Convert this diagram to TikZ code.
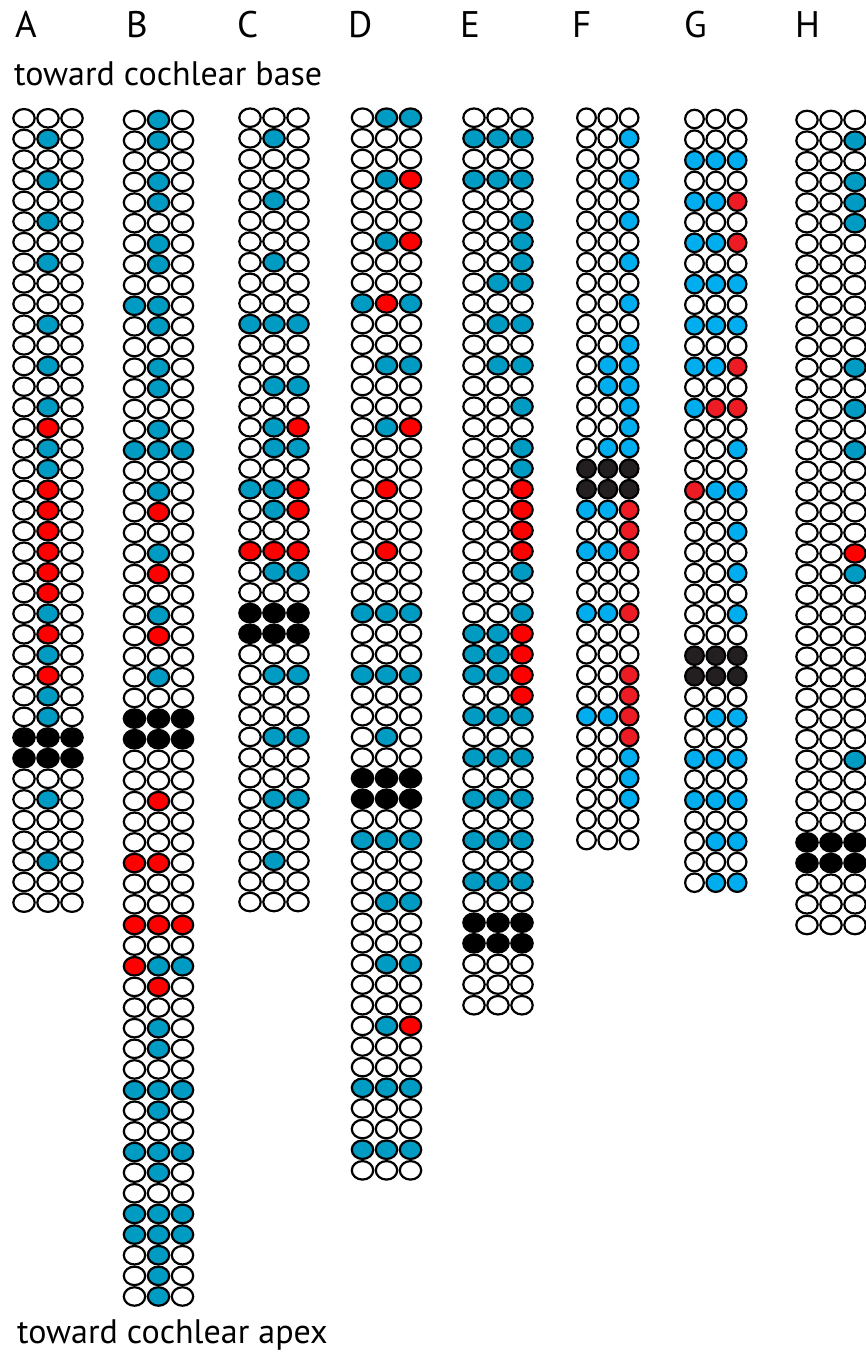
\documentclass[tikz,border=0pt]{standalone}
\usepackage{fontspec}
\setmainfont{PT Sans}
\usetikzlibrary{shapes.geometric}
% t = teal set (A-E, H), f = bright set (F, G)
\definecolor{tw}{HTML}{FFFFFF}
\definecolor{tb}{HTML}{009BC3}
\definecolor{tr}{HTML}{FF0000}
\definecolor{tk}{HTML}{000000}
\definecolor{fw}{HTML}{FFFFFF}
\definecolor{fb}{HTML}{00AEEF}
\definecolor{fr}{HTML}{ED1C24}
\definecolor{fk}{HTML}{231F20}
\tikzset{
  cell/.style={ellipse, draw=black, line width=2.2pt, inner sep=0pt,
               minimum height=18.5pt},
  lbl/.style={font=\fontsize{34}{40}\selectfont, anchor=base west, inner sep=0pt},
  letter/.style={lbl, font=\fontsize{37}{44}\selectfont}
}
\def\splitcells#1#2#3\relax{\def\cA{#1}\def\cB{#2}\def\cC{#3}}
% #1 name, #2 left x, #3 x step, #4 top y, #5 colour set, #6 rows
\newcommand{\cellstrip}[6]{%
  \foreach \cells [count=\n] in {#6} {
    \expandafter\splitcells\cells\relax
    \foreach \c [count=\m] in {\cA,\cB,\cC} {
      \edef\cellcol{#5\c}
      \node[cell, minimum width=#3-2.6, fill=\cellcol] (#1-\n-\m)
        at ({#2+(\m-1)*#3},{#4+(\n-1)*20.64}) {};
    }
  }
}

\begin{document}
\begin{tikzpicture}[x=1pt,y=-1pt]
  \useasboundingbox (0,0) rectangle (866,1355);

  \foreach \t/\x in {A/15,B/126,C/237,D/348,E/460,F/572,G/684,H/795}
    \node[letter] (lbl\t) at (\x,37.5) {\t};
  \node[lbl] (base) at (14,85) {toward cochlear base};
  \node[lbl] (apex) at (17,1343) {toward cochlear apex};

  \cellstrip{A}{24}{24}{118.3}{t}{www,wbw,www,wbw,www,wbw,www,wbw,www,www,
    wbw,www,wbw,www,wbw,wrw,wbw,wbw,wrw,wrw,wrw,wrw,wrw,wrw,wbw,wrw,wbw,wrw,
    wbw,wbw,kkk,kkk,www,wbw,www,www,wbw,www,www}
  \cellstrip{B}{134.5}{24}{120}{t}{wbw,wbw,www,wbw,wbw,www,wbw,wbw,www,bbw,
    wbw,www,wbw,wbw,www,wbw,bbb,www,wbw,wrw,www,wbw,wrw,www,wbw,wrw,www,wbw,
    www,kkk,kkk,www,www,wrw,www,www,rrw,www,www,rrr,www,rbb,wrw,www,wbw,wbw,
    www,bbb,wbw,www,bbb,wbw,www,bbb,bbb,wbw,wbw,wbw}
  \cellstrip{C}{250}{24}{117.7}{t}{www,wbw,www,www,wbw,www,www,wbw,www,www,
    bbb,www,www,wbb,www,wbr,wbb,www,bbr,wbr,www,rrr,wbb,www,kkk,kkk,www,wbb,
    www,www,wbb,www,www,wbb,www,www,wbw,www,www}
  \cellstrip{D}{362.5}{24}{117.7}{t}{wbb,www,www,wbr,www,www,wbr,www,www,brb,
    www,www,wbb,www,www,wbr,www,www,wrw,www,www,wrw,www,www,bbb,www,www,bbb,
    www,www,wbw,www,kkk,kkk,www,bbb,www,www,wbb,www,www,wbb,www,www,wbr,www,
    www,bbb,www,www,bbb,www}
  \cellstrip{E}{474}{24}{117.7}{t}{www,bbb,www,bbb,www,wwb,wwb,wwb,wbb,www,
    wbb,www,wbb,www,wwb,www,wwb,wwb,wwr,wwr,wwr,wwr,wwb,www,wwb,bbr,bbr,bbr,
    wwr,bbb,www,bbb,www,bbb,www,bbb,www,bbb,www,kkk,kkk,www,www,www}
  \cellstrip{F}{586.5}{21.3}{117.7}{f}{www,wwb,www,wwb,www,wwb,www,wwb,www,
    wwb,www,wwb,wbb,wbb,wwb,wwb,wbb,kkk,kkk,bbr,wwr,bbr,www,www,bbr,www,www,
    wwr,wwr,bbr,wwr,wwb,wwb,wwb,www,www}
  \cellstrip{G}{694.5}{21.3}{119}{f}{www,www,bbb,www,bbr,www,bbr,www,bbb,www,
    bbb,www,bbr,www,brr,www,wwb,www,rbb,www,wwb,www,wwb,www,wwb,www,kkk,kkk,
    www,wbb,www,bbb,www,bbb,www,wbb,www,wbb}
  \cellstrip{H}{807}{24}{120}{t}{www,wwb,www,wwb,wwb,wwb,www,www,www,www,
    www,www,wwb,www,wwb,www,wwb,www,www,www,www,wwr,wwb,www,www,www,www,www,
    www,www,www,wwb,www,www,www,kkk,kkk,www,www,www}
\end{tikzpicture}
\end{document}
